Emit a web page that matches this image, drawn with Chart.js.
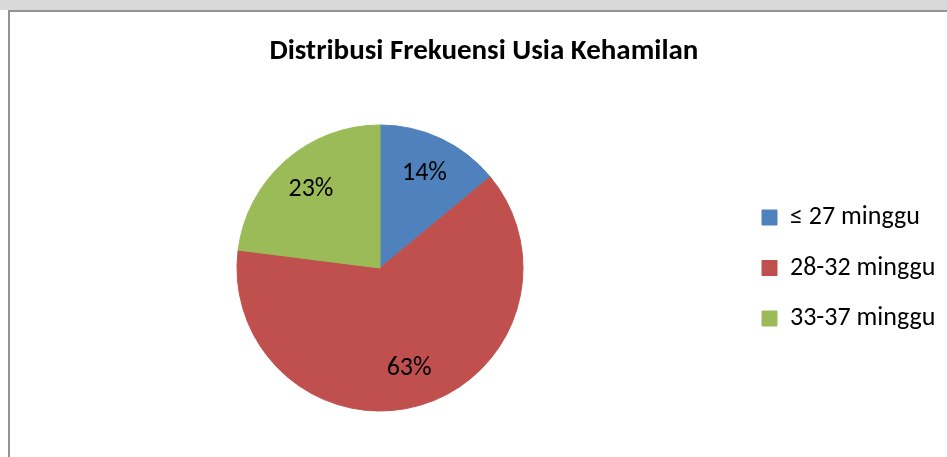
<!DOCTYPE html>
<html>
<head>
<meta charset="utf-8">
<title>Distribusi Frekuensi Usia Kehamilan</title>
<script src="https://cdn.jsdelivr.net/npm/chart.js@4"></script>
<style>
  html, body { margin: 0; padding: 0; background: #fff; overflow: hidden; }
  .strip { position: absolute; left: 0; top: 0; width: 947px; height: 10px; background: #d9d9d9; }
  .frame {
    position: absolute; left: 8px; top: 10px; width: 947px; height: 460px;
    border-top: 2px solid #939393; border-left: 2px solid #939393; background: #fff;
  }
  #usiaChart { position: absolute; left: 10px; top: 12px; }
</style>
</head>
<body>
<div class="strip"></div>
<div class="frame"></div>
<canvas id="usiaChart" width="937" height="445"></canvas>
<script>
const kategori = ['≤ 27 minggu', '28-32 minggu', '33-37 minggu'];
const persen = [14, 63, 23];
const warna = ['#4f81bd', '#c0504d', '#9bbb59'];
const judul = 'Distribusi Frekuensi Usia Kehamilan';

const FONT = 'Carlito, Calibri, Lato, sans-serif';
const W = 937;
const legendSize = 26;
const legendPad = 24.5;
const boxSize = 15;
const boxLeft = 752;     // kotak legenda (koordinat canvas)
const pieCX = 370;       // pusat pie
const pieR = 143;

// hitung padding supaya legenda & pie jatuh di tempat yang sama dengan gambar
const m = document.createElement('canvas').getContext('2d');
m.font = legendSize + 'px ' + FONT;
const textW = Math.max(...kategori.map(t => m.measureText(t).width));
const legendW = legendPad + boxSize + legendSize / 2 + textW + 10;
const legendLeft = boxLeft - legendPad;
const padLeft = 2 * pieCX - legendLeft;
const padRight = W - legendLeft - legendW;

/* label persen di dalam irisan */
const labelPersen = {
  id: 'labelPersen',
  afterDatasetsDraw(chart) {
    const ctx = chart.ctx;
    const meta = chart.getDatasetMeta(0);
    ctx.save();
    ctx.font = '26px ' + FONT;
    ctx.fillStyle = '#000';
    ctx.textAlign = 'center';
    ctx.textBaseline = 'middle';
    meta.data.forEach((arc, i) => {
      const p = arc.getProps(['x', 'y', 'startAngle', 'endAngle', 'outerRadius'], true);
      const mid = (p.startAngle + p.endAngle) / 2;
      const r = p.outerRadius * 0.73;
      ctx.fillText(persen[i] + '%', p.x + Math.cos(mid) * r, p.y + Math.sin(mid) * r);
    });
    ctx.restore();
  }
};

new Chart(document.getElementById('usiaChart'), {
  type: 'pie',
  data: {
    labels: kategori,
    datasets: [{
      data: persen,
      backgroundColor: warna,
      borderColor: warna,
      borderWidth: 1,
      hoverOffset: 0
    }]
  },
  options: {
    responsive: false,
    animation: false,
    radius: pieR,
    layout: {
      padding: { left: padLeft, right: padRight, top: 0, bottom: 0 }
    },
    plugins: {
      title: {
        display: true,
        text: judul,
        color: '#000',
        font: { family: FONT, size: 29, weight: 'bold' },
        padding: { top: 22.5, bottom: 9.7 }
      },
      legend: {
        position: 'right',
        fullSize: false,
        labels: {
          color: '#000',
          font: { family: FONT, size: legendSize },
          boxWidth: boxSize,
          boxHeight: boxSize,
          padding: legendPad
        }
      },
      tooltip: { enabled: false }
    }
  },
  plugins: [labelPersen]
});
</script>
</body>
</html>
